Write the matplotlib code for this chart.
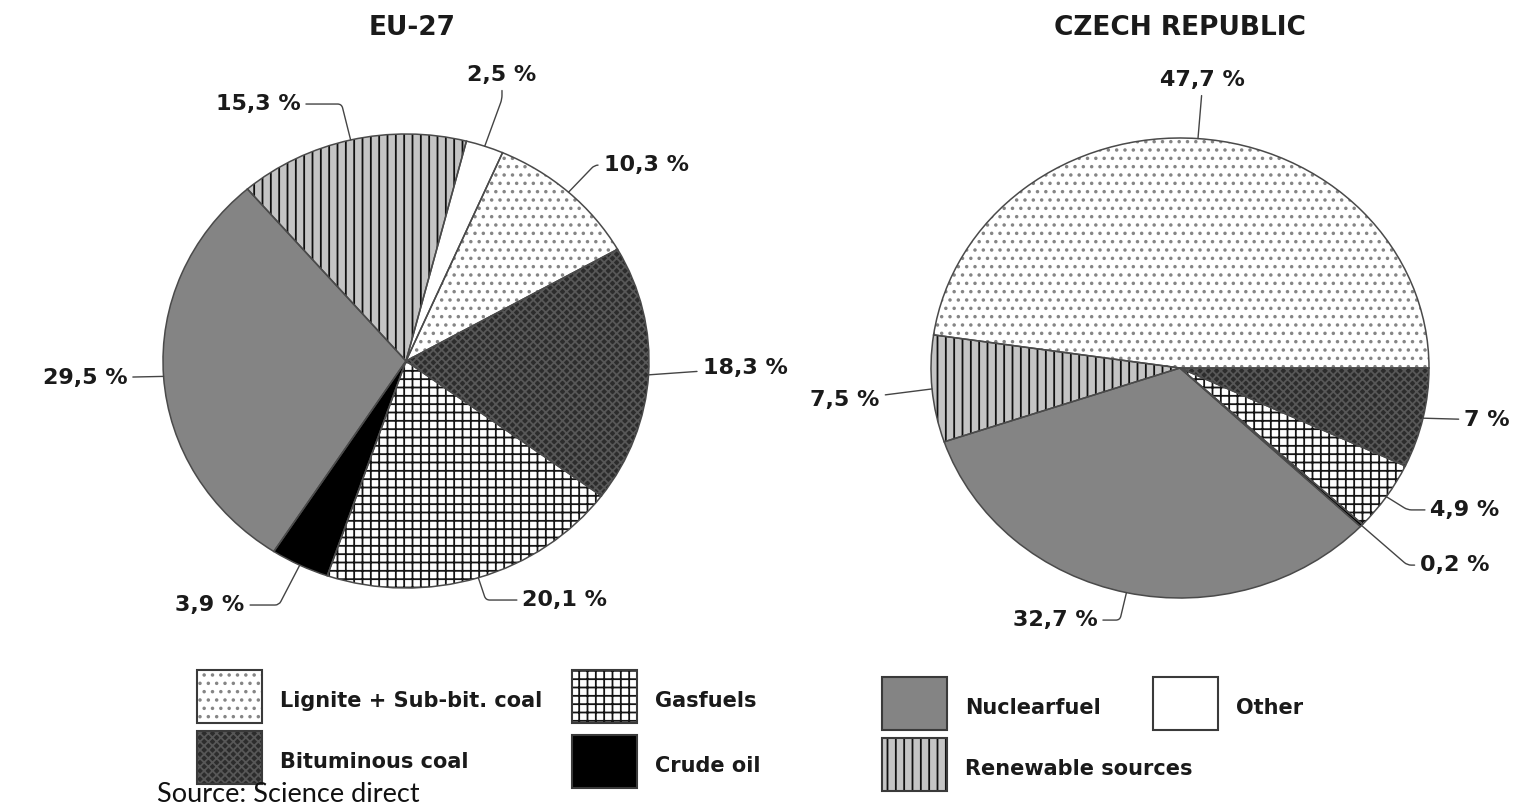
import numpy as np
import matplotlib
matplotlib.use("Agg")
import matplotlib.pyplot as plt
from matplotlib.patches import Rectangle

# shares of fuels in electricity production (%)
eu_fuels = ["Other", "Lignite + Sub-bit. coal", "Bituminous coal", "Gasfuels",
            "Crude oil", "Nuclearfuel", "Renewable sources"]
eu_values = [2.5, 10.3, 18.3, 20.1, 3.9, 29.5, 15.3]

cz_fuels = ["Bituminous coal", "Gasfuels", "Crude oil", "Nuclearfuel",
            "Renewable sources", "Lignite + Sub-bit. coal"]
cz_values = [7.0, 4.9, 0.2, 32.7, 7.5, 47.7]

legend_order = ["Lignite + Sub-bit. coal", "Bituminous coal", "Gasfuels", "Crude oil",
                "Nuclearfuel", "Renewable sources", "Other"]

W, H = 1515, 809
plt.rcParams["hatch.linewidth"] = 1.3

styles = {
    "Lignite + Sub-bit. coal": dict(face="white", hatch="..", hc="#858585"),
    "Bituminous coal": dict(face="#2c2c2c", hatch="xxxx", hc="#575757"),
    "Gasfuels": dict(face="white", hatch="++", hc="#151515"),
    "Crude oil": dict(face="black", hatch=None, hc="black"),
    "Nuclearfuel": dict(face="#848484", hatch=None, hc="#848484"),
    "Renewable sources": dict(face="#c4c4c4", hatch="||", hc="#101010"),
    "Other": dict(face="white", hatch=None, hc="white"),
}
bold = dict(family="DejaVu Sans", weight="bold", color="#1a1a1a")


def fmt(v):
    return f"{v:g}".replace(".", ",") + " %"


fig = plt.figure(figsize=(W / 100, H / 100), dpi=100)

# overlay in pixel units for the legend
lay = fig.add_axes([0, 0, 1, 1])
lay.set_xlim(0, W)
lay.set_ylim(H, 0)
lay.axis("off")


def draw_pie(cx, cy, rx, ry, fuels, values, start, spots):
    span = 1.5
    ax = fig.add_axes([(cx - span * rx) / W, (H - cy - span * ry) / H,
                       2 * span * rx / W, 2 * span * ry / H])
    wedges, _ = ax.pie(values, startangle=start, counterclock=False,
                       wedgeprops=dict(linewidth=0))
    for w, f in zip(wedges, fuels):
        st = styles[f]
        w.set_facecolor(st["face"])
        w.set_edgecolor(st["hc"])
        if st["hatch"]:
            w.set_hatch(st["hatch"])
    ax.pie(values, startangle=start, counterclock=False,
           wedgeprops=dict(facecolor="none", edgecolor="#4a4a4a", linewidth=1.1))
    ax.set_aspect("auto")
    ax.set_xlim(-span, span)
    ax.set_ylim(-span, span)
    ax.axis("off")

    for w, v, (tx, ty, mode) in zip(wedges, values, spots):
        mid = np.deg2rad((w.theta1 + w.theta2) / 2)
        px, py = np.cos(mid), np.sin(mid)
        radial = np.degrees(np.arctan2(py * ry, px * rx))
        if mode == "s":
            conn = "arc3,rad=0"
        else:
            a = 0 if mode == "h" else 90
            conn = f"angle,angleA={a},angleB={radial:.1f},rad=4"
        ax.annotate(fmt(v), xy=(px, py), xytext=(tx, ty), ha="center", va="center",
                    fontsize=16, **bold,
                    arrowprops=dict(arrowstyle="-", color="#444444", lw=1.0,
                                    connectionstyle=conn, shrinkA=2, shrinkB=0))
    return ax


eu_spots = [(0.395, 1.26, "v"), (0.988, 0.863, "h"), (1.395, -0.031, "s"),
            (0.654, -1.053, "h"), (-0.807, -1.075, "h"), (-1.321, -0.075, "s"),
            (-0.609, 1.132, "h")]
cz_spots = [(1.233, -0.226, "s"), (1.145, -0.617, "h"), (1.104, -0.857, "h"),
            (-0.502, -1.096, "h"), (-1.345, -0.139, "s"), (0.092, 1.252, "s")]

draw_pie(406, 361, 243, 227, eu_fuels, eu_values, 75.6, eu_spots)
draw_pie(1180, 368, 249, 230, cz_fuels, cz_values, 0, cz_spots)

fig.text(412 / W, 1 - 28 / H, "EU-27", ha="center", va="center", fontsize=19, **bold)
fig.text(1180 / W, 1 - 28 / H, "CZECH REPUBLIC", ha="center", va="center",
         fontsize=19, **bold)

# legend boxes
box_spots = [(197, 670), (197, 731), (572, 670), (572, 735),
             (882, 677), (882, 738), (1153, 677)]
for f, (bx, by) in zip(legend_order, box_spots):
    st = styles[f]
    lay.add_patch(Rectangle((bx, by), 65, 53, facecolor=st["face"], edgecolor=st["hc"],
                            hatch=st["hatch"], linewidth=0))
    lay.add_patch(Rectangle((bx, by), 65, 53, facecolor="none", edgecolor="#3a3a3a",
                            linewidth=1.5))
    lay.text(bx + 83, by + 31, f, ha="left", va="center", fontsize=15, **bold)

fig.text(157 / W, 1 - 794 / H, "Source: Science direct", ha="left", va="center",
         fontsize=19.5, family="Lato", color="#111111")

fig.savefig("out.png", dpi=100)
